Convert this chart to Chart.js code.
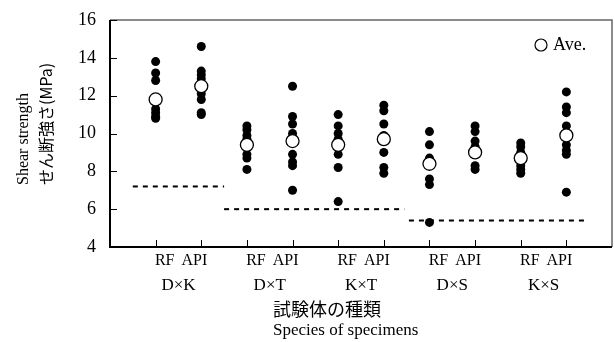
<!DOCTYPE html>
<html>
<head>
<meta charset="utf-8">
<script src="https://cdn.jsdelivr.net/npm/chart.js@4"></script>
<style>
  html, body { margin: 0; padding: 0; background: #fff; }
  #wrap { width: 615px; height: 342px; }
</style>
</head>
<body>
<div id="wrap"><canvas id="shearChart" width="615" height="342"></canvas></div>
<script>
// species pairs and test methods
const groups = ['D×K', 'D×T', 'K×T', 'D×S', 'K×S'];
const methods = ['RF', 'API'];

// individual specimen results (MPa)
const rfValues = [
    [13.8, 13.2, 12.8, 11.3, 11.1, 10.9, 10.8],
    [10.4, 10.2, 9.9, 9.7, 8.9, 8.7, 8.1],
    [11.0, 10.4, 10.0, 9.7, 8.9, 8.2, 6.4],
    [10.1, 9.4, 8.7, 8.5, 7.6, 7.3, 5.3],
    [9.5, 9.3, 9.0, 8.6, 8.3, 8.1, 7.9]
];
const apiValues = [
    [14.6, 13.3, 13.1, 12.9, 12.4, 12.1, 11.8, 11.1, 11.0],
    [12.5, 10.9, 10.5, 10.0, 9.8, 8.9, 8.5, 8.3, 7.0],
    [11.5, 11.2, 10.5, 9.9, 9.0, 8.2, 7.9],
    [10.4, 10.1, 9.6, 9.3, 8.3, 8.1],
    [12.2, 11.4, 11.1, 10.4, 9.4, 9.1, 8.9, 6.9]
];
const rfAve = [11.8, 9.4, 9.4, 8.4, 8.7];
const apiAve = [12.5, 9.6, 9.7, 9.0, 9.9];

// reference strength levels (dashed lines)
const refLevels = [7.2, 6.0, 5.4];
const refFrom = [0.5, 2.5, 6.55];
const refTo = [2.5, 6.45, 10.45];

const yTicks = [4, 6, 8, 10, 12, 14, 16];

const serif = "'Liberation Serif', 'Times New Roman', serif";
const jp = "'Noto Sans CJK JP', sans-serif";

// x position of RF / API column for group i
const xPos = (i, m) => 2 * i + 1 + m;

const specimenPts = [];
const avePts = [];
groups.forEach((g, i) => {
    rfValues[i].forEach(v => specimenPts.push({ x: xPos(i, 0), y: v }));
    apiValues[i].forEach(v => specimenPts.push({ x: xPos(i, 1), y: v }));
    avePts.push({ x: xPos(i, 0), y: rfAve[i] });
    avePts.push({ x: xPos(i, 1), y: apiAve[i] });
});

const refSets = refLevels.map((lv, k) => ({
    type: 'line',
    label: 'ref' + k,
    data: [{ x: refFrom[k], y: lv }, { x: refTo[k], y: lv }],
    borderColor: '#000',
    borderWidth: 2,
    borderDash: [5, 5],
    pointRadius: 0,
    fill: false
}));

const decorPlugin = {
    id: 'decor',
    beforeDatasetsDraw(chart) {
        const { ctx, chartArea: a, scales: { x, y } } = chart;
        ctx.save();
        // frame
        ctx.strokeStyle = '#666';
        ctx.lineWidth = 1.5;
        ctx.beginPath();
        ctx.moveTo(a.left, a.top);
        ctx.lineTo(a.right, a.top);
        ctx.lineTo(a.right, a.bottom);
        ctx.stroke();
        ctx.strokeStyle = '#000';
        ctx.lineWidth = 2;
        ctx.beginPath();
        ctx.moveTo(a.left, a.top);
        ctx.lineTo(a.left, a.bottom);
        ctx.lineTo(a.right, a.bottom);
        ctx.stroke();
        // inward tick marks
        ctx.lineWidth = 1;
        ctx.beginPath();
        yTicks.forEach(t => {
            const py = Math.round(y.getPixelForValue(t)) + 0.5;
            ctx.moveTo(a.left, py);
            ctx.lineTo(a.left + 7, py);
        });
        groups.forEach((g, i) => {
            methods.forEach((m, j) => {
                const px = Math.round(x.getPixelForValue(xPos(i, j))) + 0.5;
                ctx.moveTo(px, a.bottom);
                ctx.lineTo(px, a.bottom - 7);
            });
        });
        ctx.stroke();
        ctx.restore();
    },
    afterDraw(chart) {
        const { ctx, scales: { x } } = chart;
        ctx.save();
        ctx.fillStyle = '#000';
        ctx.textBaseline = 'middle';
        // method + group labels
        groups.forEach((g, i) => {
            const cx = x.getPixelForValue(xPos(i, 0) + 0.5);
            ctx.font = '16px ' + serif;
            ctx.textAlign = 'right';
            ctx.fillText(methods[0], cx - 4, 261);
            ctx.textAlign = 'left';
            ctx.fillText(methods[1], cx + 3, 261);
            ctx.textAlign = 'center';
            ctx.font = '17px ' + serif;
            ctx.fillText(g, cx, 286);
        });
        // x title (left aligned lines)
        ctx.textAlign = 'left';
        ctx.font = '18px ' + jp;
        ctx.fillText('試験体の種類', 273, 309);
        ctx.font = '17px ' + serif;
        ctx.fillText('Species of specimens', 273, 331);
        // y title (rotated, both lines start at the same end)
        ctx.save();
        ctx.translate(24, 185);
        ctx.rotate(-Math.PI / 2);
        ctx.font = '16px ' + serif;
        ctx.fillText('Shear strength', 0, 0);
        ctx.restore();
        ctx.save();
        ctx.translate(46, 185);
        ctx.rotate(-Math.PI / 2);
        ctx.font = '16px ' + jp;
        ctx.fillText('せん断強さ(MPa)', 0, 0);
        ctx.restore();
        // legend
        ctx.beginPath();
        ctx.arc(541, 45, 6, 0, Math.PI * 2);
        ctx.fillStyle = '#fff';
        ctx.fill();
        ctx.lineWidth = 1.2;
        ctx.strokeStyle = '#000';
        ctx.stroke();
        ctx.fillStyle = '#000';
        ctx.textAlign = 'left';
        ctx.font = '18px ' + serif;
        ctx.fillText('Ave.', 553, 45);
        ctx.restore();
    }
};

new Chart(document.getElementById('shearChart'), {
    type: 'scatter',
    data: {
        datasets: [
            {
                label: 'Ave.',
                data: avePts,
                pointRadius: 6.5,
                pointHoverRadius: 6.5,
                backgroundColor: '#fff',
                borderColor: '#000',
                borderWidth: 1.3
            },
            {
                label: 'Specimens',
                data: specimenPts,
                pointRadius: 4.5,
                pointHoverRadius: 4.5,
                backgroundColor: '#000',
                borderColor: '#000',
                borderWidth: 0
            },
            ...refSets
        ]
    },
    options: {
        responsive: false,
        animation: false,
        events: [],
        layout: { autoPadding: false, padding: { top: 20, right: 3, left: 0, bottom: 0 } },
        plugins: {
            legend: { display: false },
            tooltip: { enabled: false }
        },
        scales: {
            x: {
                type: 'linear',
                min: 0,
                max: 11,
                grid: { display: false, drawTicks: false },
                border: { display: false },
                ticks: { display: false },
                afterFit: s => { s.height = 95; }
            },
            y: {
                min: 4,
                max: 16,
                grid: { display: false, drawTicks: false },
                border: { display: false },
                afterBuildTicks: s => { s.ticks = yTicks.map(v => ({ value: v })); },
                ticks: {
                    color: '#000',
                    padding: 14,
                    font: { family: serif, size: 18 }
                },
                afterFit: s => { s.width = 110; s.paddingTop = 0; s.paddingBottom = 0; }
            }
        }
    },
    plugins: [decorPlugin]
});
</script>
</body>
</html>
